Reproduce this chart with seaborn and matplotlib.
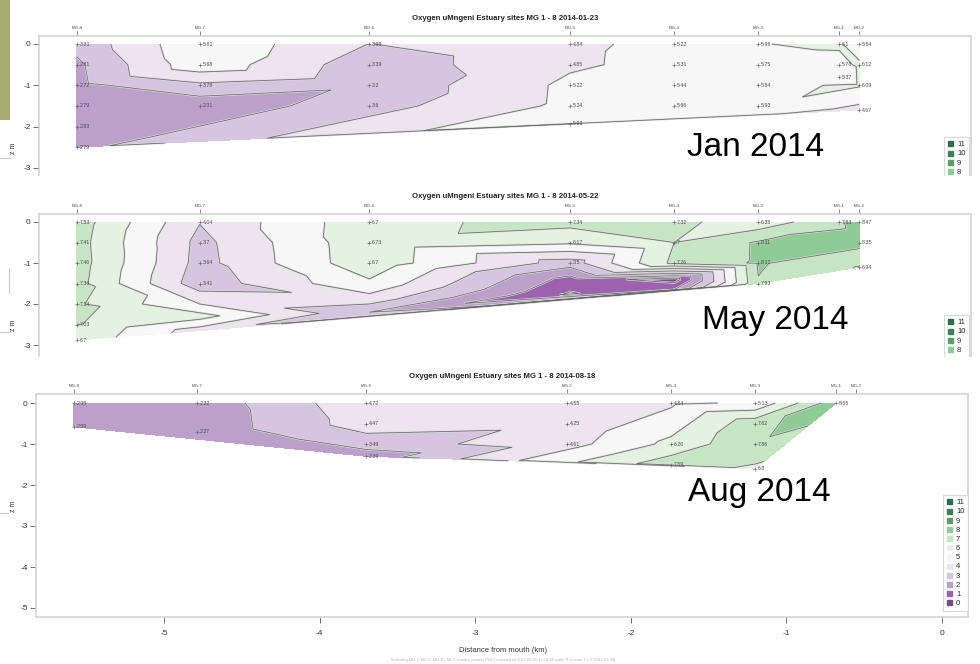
import numpy as np
import pandas as pd
import matplotlib
matplotlib.use("Agg")
import matplotlib.pyplot as plt
import matplotlib.tri as mtri
import matplotlib.patheffects as pe
from matplotlib.lines import Line2D
from matplotlib.patches import Rectangle
import seaborn as sns

# ---------------- data ----------------
stations = ["MG-8", "MG-7", "MG-6", "MG-5", "MG-4", "MG-3", "MG-1", "MG-2"]
station_km = [-5.58, -4.79, -3.70, -2.41, -1.74, -1.20, -0.68, -0.55]

# 2014-01-23 : dissolved oxygen (mg/l) by station and depth (m)
jan_site = (["MG-8"] * 6 + ["MG-7"] * 4 + ["MG-6"] * 4 + ["MG-5"] * 5
            + ["MG-4"] * 4 + ["MG-3"] * 4 + ["MG-1"] * 3 + ["MG-2"] * 4)
jan_z = [0, -0.5, -1, -1.5, -2, -2.5,
         0, -0.5, -1, -1.5,
         0, -0.5, -1, -1.5,
         0, -0.5, -1, -1.5, -1.93,
         0, -0.5, -1, -1.5,
         0, -0.5, -1, -1.5,
         0, -0.5, -0.8,
         0, -0.5, -1, -1.6]
jan_o2 = [3.31, 2.81, 2.72, 2.79, 2.83, 2.79,
          5.81, 5.68, 3.78, 2.31,
          3.98, 3.39, 3.2, 3.6,
          4.84, 4.85, 5.22, 5.24, 5.93,
          5.22, 5.31, 5.44, 5.66,
          5.98, 5.75, 5.84, 5.93,
          6.1, 5.78, 5.37,
          5.54, 6.12, 6.09, 4.67]

# 2014-05-22
may_site = (["MG-8"] * 7 + ["MG-7"] * 4 + ["MG-6"] * 3 + ["MG-5"] * 3
            + ["MG-4"] * 3 + ["MG-3"] * 4 + ["MG-1"] * 1 + ["MG-2"] * 3)
may_z = [0, -0.5, -1, -1.5, -2, -2.5, -2.88,
         0, -0.5, -1, -1.5,
         0, -0.5, -1,
         0, -0.5, -1,
         0, -0.5, -1,
         0, -0.5, -1, -1.5,
         0,
         0, -0.5, -1.1]
may_o2 = [7.53, 7.41, 7.46, 7.36, 7.14, 7.03, 6.7,
          4.04, 3.7, 3.64, 3.41,
          6.7, 6.73, 6.7,
          7.34, 6.17, 3.5,
          7.32, 7, 7.26,
          6.35, 8.11, 8.12, 7.93,
          7.83,
          8.47, 8.35, 6.94]
# deeper May readings whose printed values are hidden under the contour lines
may_deep_site = ["MG-7", "MG-7", "MG-7", "MG-6", "MG-6", "MG-6",
                 "MG-5", "MG-5", "MG-4", "MG-4"]
may_deep_z = [-2.0, -2.3, -2.65, -1.5, -1.9, -2.2, -1.4, -1.75, -1.4, -1.65]
may_deep_o2 = [5.0, 6.4, 4.5, 5.8, 4.5, 3.0, 1.6, 0.9, 0.5, 2.0]

# 2014-08-18
aug_site = (["MG-8"] * 2 + ["MG-7"] * 2 + ["MG-6"] * 4 + ["MG-5"] * 3
            + ["MG-4"] * 3 + ["MG-3"] * 4 + ["MG-1"] * 1)
aug_z = [0, -0.58,
         0, -0.7,
         0, -0.5, -1.0, -1.3,
         0, -0.5, -1.0,
         0, -1.0, -1.5,
         0, -0.5, -1.0, -1.6,
         0]
aug_o2 = [2.95, 2.59,
          2.32, 2.27,
          4.72, 4.47, 3.49, 2.39,
          4.55, 4.25, 4.61,
          4.84, 6.26, 7.59,
          5.13, 7.62, 7.86, 6.8,
          8.65]

oxygen_classes = list(range(12))
distance_ticks = [-5, -4, -3, -2, -1, 0]

# ---------------- style ----------------
sns.set_theme(style="white")
plt.rcParams["font.family"] = ["Liberation Sans Narrow", "Liberation Sans", "DejaVu Sans"]

fill_colors = ["#7a4a89", "#9d61b0", "#bca0cb", "#d6c5e1", "#ede4f0", "#f7f7f7",
               "#e3f3df", "#c6e6c3", "#8fcb94", "#5a9e70", "#3f7f5c", "#2f6b4e"]
levels = np.arange(0, 13)
XLIM = (-5.823, 0.167)

W, H = 980, 664
fig = plt.figure(figsize=(W / 100, H / 100), dpi=100)


def fx(px):
    return px / W


def fy(py):
    return 1 - py / H


def box(left, top, right, bottom):
    return [fx(left), fy(bottom), (right - left) / W, (bottom - top) / H]


km_of = dict(zip(stations, station_km))


def section(rect, ylim, site, z, o2, deep_site=(), deep_z=(), deep_o2=(),
            yticks=(0, -1, -2, -3), show_x=False):
    ax = fig.add_axes(box(*rect))
    xs = [km_of[s] for s in site] + [km_of[s] for s in deep_site]
    zs = list(z) + list(deep_z)
    vs = list(o2) + list(deep_o2)
    tri = mtri.Triangulation(xs, zs)
    ax.tricontourf(tri, vs, levels=levels, colors=fill_colors, zorder=1)
    cs = ax.tricontour(tri, vs, levels=levels[1:-1], colors="#686868",
                       linewidths=0.55, zorder=2)
    cs.set_path_effects([pe.Stroke(linewidth=1.5, foreground="#dcdcdc"), pe.Normal()])

    pts = pd.DataFrame({"km": [km_of[s] for s in site], "z": z, "o2": o2})
    sns.scatterplot(data=pts, x="km", y="z", marker="+", s=6, color="#666666",
                    linewidth=0.45, ax=ax, legend=False, zorder=3)
    for r in pts.itertuples():
        ax.annotate(f"{r.o2:g}", (r.km, r.z), xytext=(2.0, 0),
                    textcoords="offset points", fontsize=3.8, va="center",
                    ha="left", color="#4a4a4a", zorder=4)

    ax.set_xlim(*XLIM)
    ax.set_ylim(*ylim)
    ax.set_xlabel("")
    ax.set_ylabel("")
    for side in ("left", "top", "right", "bottom"):
        ax.spines[side].set_color("#d4d4d4")
        ax.spines[side].set_linewidth(1.2)
    ax.set_yticks(list(yticks))
    ax.set_yticklabels([f"{t:g}" for t in yticks])
    ax.tick_params(axis="y", left=True, length=4.5, width=0.6, color="#555555",
                   labelsize=6, labelcolor="#333333", pad=1.5)
    if show_x:
        ax.set_xticks(distance_ticks)
        ax.set_xticklabels([f"{t:g}" for t in distance_ticks])
        ax.tick_params(axis="x", bottom=True, length=4.5, width=0.6, color="#555555",
                       labelsize=6, labelcolor="#333333", pad=5)
    else:
        ax.set_xticks([])
        ax.spines["bottom"].set_visible(False)

    top = ax.secondary_xaxis("top")
    top.set_xticks(station_km, labels=stations)
    top.tick_params(length=3.5, width=0.5, color="#555555", labelsize=3.2,
                    pad=1, labelcolor="#444444")
    top.spines["top"].set_visible(False)
    return ax


def add_legend(ax, left_px, top_px, classes):
    handles = [Line2D([], [], marker="s", linestyle="none", markersize=3.6,
                      markerfacecolor=fill_colors[c], markeredgecolor=fill_colors[c])
               for c in classes]
    leg = ax.legend(handles, [str(c) for c in classes], loc="upper left",
                    bbox_to_anchor=(fx(left_px), fy(top_px)),
                    bbox_transform=fig.transFigure, fontsize=5.5, frameon=True,
                    fancybox=False, borderpad=0.5, labelspacing=0.24,
                    handlelength=0.7, handletextpad=0.5, borderaxespad=0)
    leg.get_frame().set_edgecolor("#d0d0d0")
    leg.get_frame().set_linewidth(0.8)
    leg.set_zorder(5)


# January section
ax1 = section((39, 36, 971, 184), (-(184 - 44) / 41.3, 8 / 41.3),
              jan_site, jan_z, jan_o2)
add_legend(ax1, 944, 137, [11, 10, 9, 8])
fig.text(fx(505), fy(18), "Oxygen uMngeni Estuary sites MG 1 - 8 2014-01-23",
         ha="center", va="center", fontsize=5.6, fontweight="bold", color="#222222")

# May section
ax2 = section((39, 214, 971, 362), (-(362 - 222) / 41.0, 8 / 41.0),
              may_site, may_z, may_o2, may_deep_site, may_deep_z, may_deep_o2)
add_legend(ax2, 944, 315, [11, 10, 9, 8])
fig.text(fx(505), fy(196), "Oxygen uMngeni Estuary sites MG 1 - 8 2014-05-22",
         ha="center", va="center", fontsize=5.6, fontweight="bold", color="#222222")

# August section
ax3 = section((36, 394, 968, 617), (-(617 - 403) / 41.0, 9 / 41.0),
              aug_site, aug_z, aug_o2, yticks=(0, -1, -2, -3, -4, -5), show_x=True)
add_legend(ax3, 943, 495, oxygen_classes[::-1])
fig.text(fx(502), fy(376), "Oxygen uMngeni Estuary sites MG 1 - 8 2014-08-18",
         ha="center", va="center", fontsize=5.6, fontweight="bold", color="#222222")
fig.text(fx(503), fy(651), "Distance from mouth (km)", ha="center", va="center",
         fontsize=5.5, color="#333333")
fig.text(fx(503), fy(660),
         "Excluding MH-1, MG-9, MG-10, ML-5 estuary_contour Plot 1 a plotted on "
         "2015-06-05 12:34:33 under R version 3.1.3 (2015-03-09)",
         ha="center", va="center", fontsize=2.8, color="#b0b0b0")

# depth axis titles
for ypx in (148, 325, 506):
    fig.text(fx(13), fy(ypx), "z m", rotation=90, ha="center", va="center",
             fontsize=5, color="#333333")

# gaps between the three sections
for top_px, bot_px in ((176.5, 186), (357, 366)):
    fig.add_artist(Rectangle((0, fy(bot_px)), 1, (bot_px - top_px) / H,
                             transform=fig.transFigure, facecolor="white",
                             edgecolor="none", zorder=6))

# survey month captions
for x_px, y_px, txt in ((687, 148, "Jan 2014"), (702, 320, "May 2014"),
                        (688, 493, "Aug 2014")):
    fig.text(fx(x_px), fy(y_px), txt, ha="left", va="center", fontsize=24,
             family=["Liberation Sans", "DejaVu Sans"], color="black", zorder=7)

# slide furniture on the left edge
fig.add_artist(Rectangle((0, fy(120)), fx(10), 120 / H, transform=fig.transFigure,
                         facecolor="#a3ac6e", edgecolor="none", zorder=7))
for xs_, ys_ in (((0, 10), (158, 158)), ((9, 9), (268, 293)),
                 ((0, 10), (332, 332)), ((0, 8), (513, 513))):
    fig.add_artist(Line2D([fx(v) for v in xs_], [fy(v) for v in ys_],
                          transform=fig.transFigure, color="#c8c8c8",
                          linewidth=0.8, zorder=7))

fig.savefig("out.png", dpi=100, facecolor="white")
